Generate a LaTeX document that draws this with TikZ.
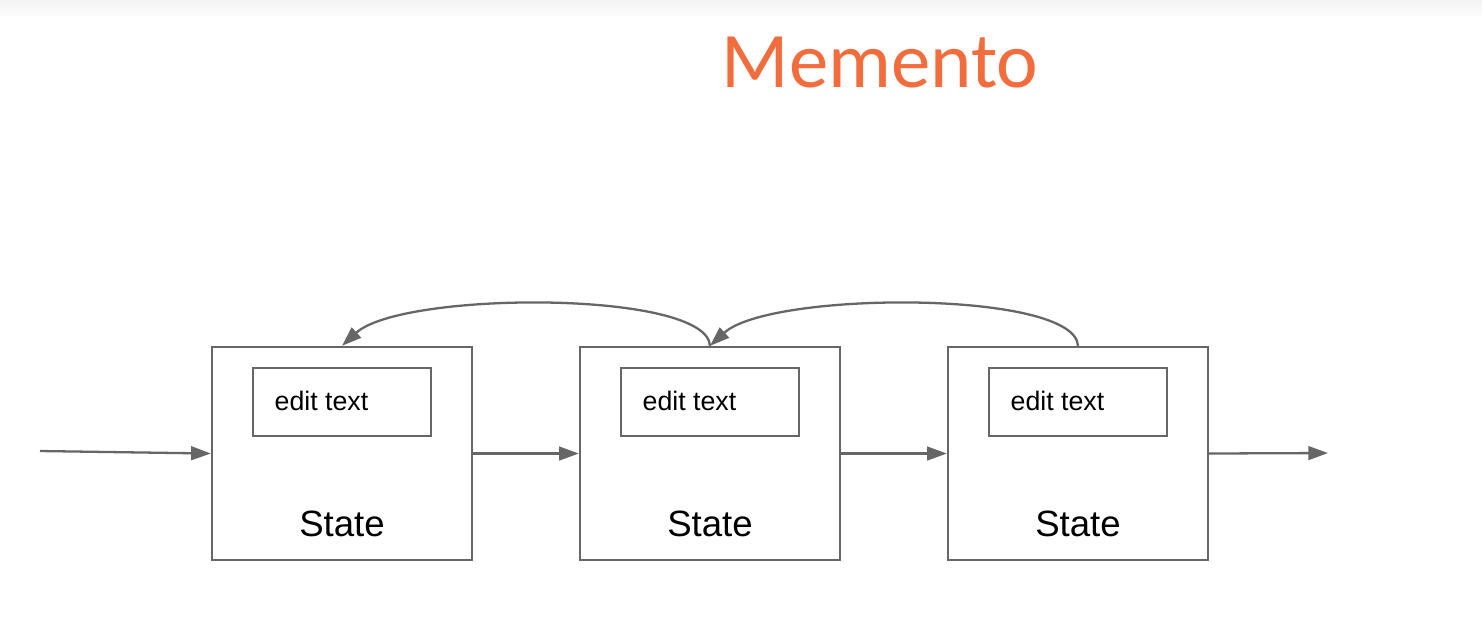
\documentclass[tikz,border=0pt]{standalone}
\usepackage{fontspec}
\setmainfont{Liberation Sans}
\newfontfamily\titlefont{Carlito}
\usetikzlibrary{arrows.meta}
\definecolor{linegray}{HTML}{666666}
\definecolor{titleorange}{HTML}{F26D3D}
\tikzset{
  statebox/.style={draw=linegray, line width=0.65pt, minimum width=2.6cm, minimum height=2.13cm, inner sep=0pt},
  editbox/.style={draw=linegray, line width=0.65pt, minimum width=1.78cm, minimum height=0.68cm, inner sep=0pt},
  flow/.style={draw=linegray, line width=0.65pt, -{Triangle[length=5.6pt,width=3.9pt]}},
  statelabel/.style={font=\fontsize{10.4pt}{12pt}\selectfont, anchor=base, inner sep=0pt},
  editlabel/.style={font=\fontsize{7.6pt}{9pt}\selectfont, anchor=base west, inner sep=0pt},
}
\begin{document}
\begin{tikzpicture}[x=0.01cm, y=-0.01cm]
  \useasboundingbox (0,0) rectangle (1482,620);
  \fill[white] (0,0) rectangle (1482,620);
  % soft grey band along the top edge
  \shade[top color=black!5, bottom color=white] (0,0) rectangle (1482,18);

  % title
  \node[text=titleorange, font=\titlefont\fontsize{22.4pt}{26pt}\selectfont, anchor=base, inner sep=0pt] (title) at (880,87) {Memento};

  % three saved states
  \foreach \i/\x in {1/342, 2/710, 3/1078} {
    \node[statebox] (s\i) at (\x,453.5) {};
    \node[editbox] (e\i) at (\x,402) {};
    \node[editlabel] (et\i) at (\x-68,410) {edit text};
    \node[statelabel] (st\i) at (\x,536) {State};
  }

  % entry and exit points
  \coordinate (in) at (40,451);
  \coordinate (out) at (1328,453);

  % forward flow
  \draw[flow] (in) -- (s1.west);
  \draw[flow] (s1.east) -- (s2.west);
  \draw[flow] (s2.east) -- (s3.west);
  \draw[flow] (s3.east) -- (out);

  % undo arcs back to the previous state
  \draw[flow] (s2.north) .. controls ++(-3,-56) and ++(60,-55) .. (s1.north);
  \draw[flow] (s3.north) .. controls ++(-3,-56) and ++(60,-55) .. (s2.north);
\end{tikzpicture}
\end{document}
